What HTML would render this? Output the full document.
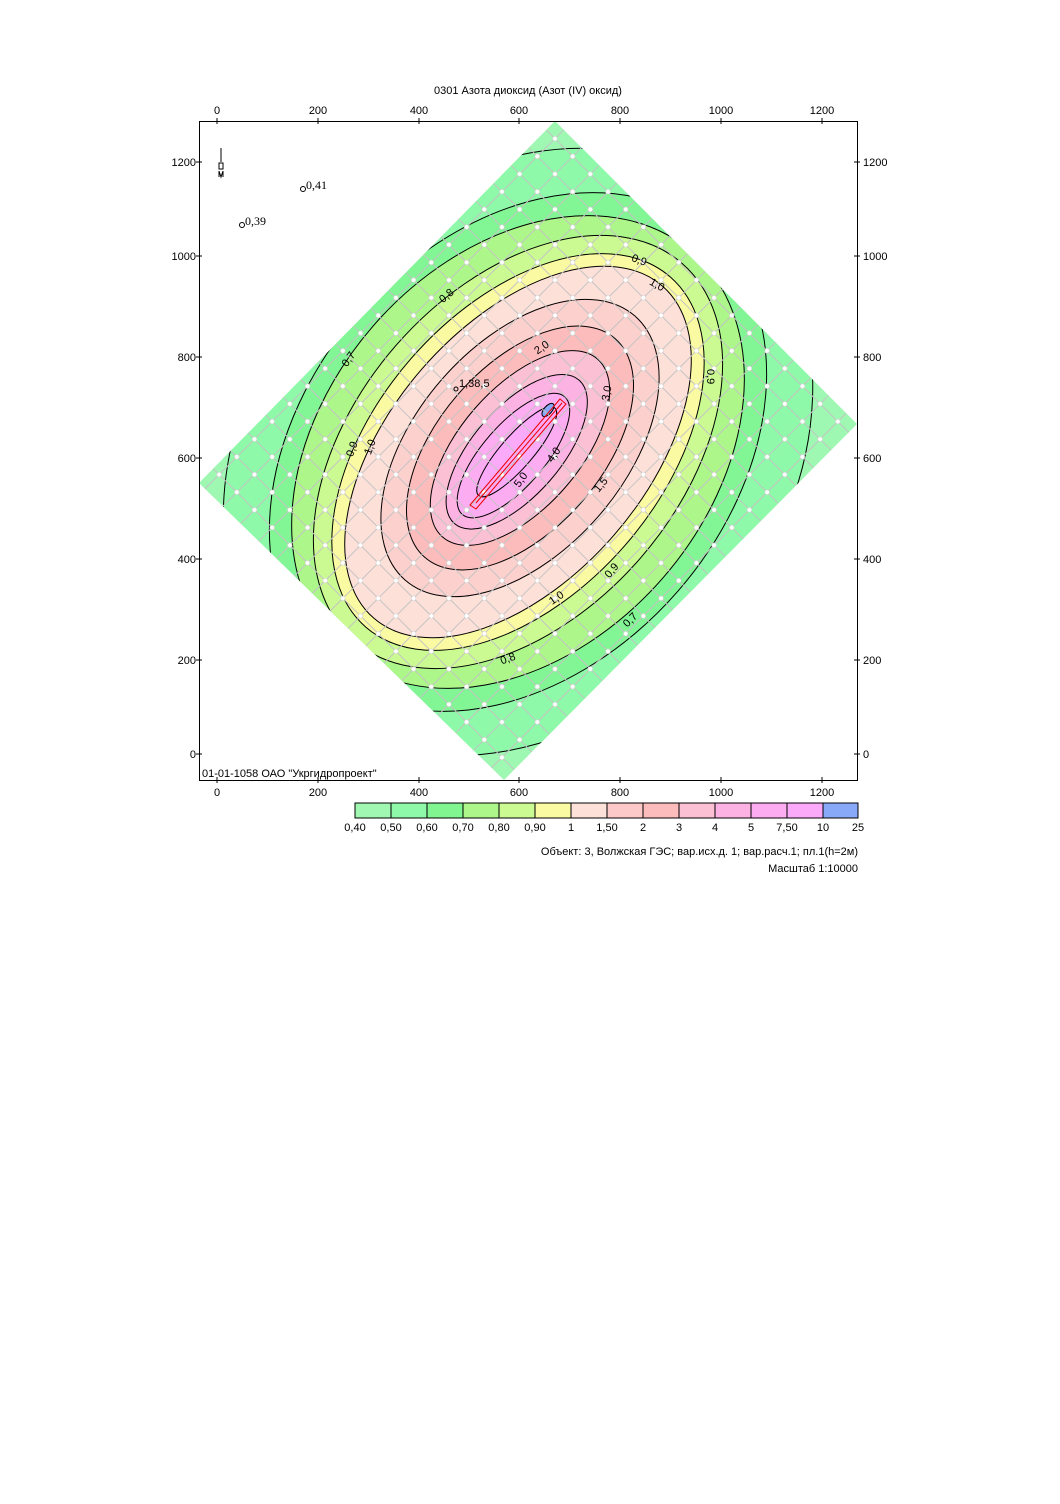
<!DOCTYPE html>
<html><head><meta charset="utf-8"><style>
html,body{margin:0;padding:0;background:#fff;}
svg text{font-family:"Liberation Sans",Arial,sans-serif;font-size:11px;fill:#000;}
</style></head><body>
<svg width="1060" height="1499" viewBox="0 0 1060 1499" xmlns="http://www.w3.org/2000/svg">
<defs>
<clipPath id="dia"><polygon points="555,121 857,424 504,780 199,483"/></clipPath>
<clipPath id="frame"><rect x="199" y="121" width="658" height="659"/></clipPath>
<pattern id="grid" width="25" height="25" patternUnits="userSpaceOnUse" patternTransform="translate(555,121) rotate(45)">
<path d="M0 12.5H25M12.5 0V25" stroke="#c4c4c4" stroke-width="1" fill="none"/>
<circle cx="12.5" cy="12.5" r="2.3" fill="#fff" stroke="#d0d0d0" stroke-width="0.6"/>
</pattern>
</defs>
<text x="528" y="94" text-anchor="middle">0301 Азота диоксид (Азот (IV) оксид)</text>
<g clip-path="url(#frame)"><g clip-path="url(#dia)">
<rect x="199" y="121" width="658" height="659" fill="#9ff8b2"/>
<g transform="translate(518,452) rotate(-49)" stroke="#000" stroke-width="1">
<ellipse rx="330" ry="265" fill="#8ef9a8"/>
<ellipse rx="290" ry="212" fill="#82f594"/>
<ellipse rx="265" ry="192" fill="#acf68a"/>
<ellipse rx="250" ry="162" fill="#cbfa92"/>
<ellipse rx="232" ry="142" fill="#fafaa2"/>
<ellipse rx="220" ry="127" fill="#fde0d8"/>
</g>
<g transform="translate(520,448) rotate(-49)" stroke="#000" stroke-width="1">
<ellipse rx="175" ry="104" fill="#fcd0cc"/>
<ellipse rx="145" ry="82" fill="#fcbcbc"/>
<ellipse rx="118" ry="60" fill="#fcc0d4"/>
<ellipse cx="-5" rx="95" ry="44" fill="#fcb2e2"/>
<ellipse cx="-10" rx="78" ry="31" fill="#fcacf0"/>
<ellipse cx="-5" rx="58" ry="16" fill="#fbaafa"/>
</g>
<ellipse cx="548" cy="410" rx="8" ry="4" transform="rotate(-49 548 410)" fill="#88a8f8" stroke="#000"/>
<rect x="199" y="121" width="658" height="659" fill="url(#grid)"/>
</g></g>
<polygon points="470,505 476,509 566,404 560,399" fill="none" stroke="#e00" stroke-width="1"/>
<line x1="476" y1="503" x2="562" y2="403" stroke="#e00" stroke-width="1"/>
<g font-size="11">
<text x="632" y="262" transform="rotate(20 635 258)">0,9</text>
<text x="650" y="287" transform="rotate(30 655 283)">1,0</text>
<text x="438" y="300" transform="rotate(-40 445 295)">0,8</text>
<text x="340" y="366" transform="rotate(-55 345 360)">0,7</text>
<text x="344" y="455" transform="rotate(-70 350 450)">0,9</text>
<text x="362" y="453" transform="rotate(-70 368 448)">1,0</text>
<text x="706" y="380" transform="rotate(90 712 375)">0,9</text>
<text x="534" y="352" transform="rotate(-35 540 348)">2,0</text>
<text x="601" y="398" transform="rotate(-80 607 395)">3,0</text>
<text x="546" y="459" transform="rotate(-55 553 455)">4,0</text>
<text x="513" y="484" transform="rotate(-55 520 480)">5,0</text>
<text x="593" y="489" transform="rotate(-50 600 485)">1,5</text>
<text x="548" y="602" transform="rotate(-35 555 597)">1,0</text>
<text x="603" y="575" transform="rotate(-50 610 570)">0,9</text>
<text x="622" y="625" transform="rotate(-45 628 620)">0,7</text>
<text x="500" y="662" transform="rotate(-20 508 658)">0,8</text>
<circle cx="456" cy="389" r="2" fill="none" stroke="#000"/><text x="459" y="387">1,38,5</text>
</g>
<rect x="199.5" y="121.5" width="658" height="659" fill="none" stroke="#000" stroke-width="1"/>
<g stroke="#000" stroke-width="1">
<path d="M217 118V124M318 118V124M419 118V124M519 118V124M620 118V124M721 118V124M822 118V124"/>
<path d="M217 777V783M318 777V783M419 777V783M519 777V783M620 777V783M721 777V783M822 777V783"/>
<path d="M196 162H202M196 256H202M196 357H202M196 458H202M196 559H202M196 660H202M196 754H202"/>
<path d="M854 162H860M854 256H860M854 357H860M854 458H860M854 559H860M854 660H860M854 754H860"/>
</g>
<g text-anchor="middle">
<text x="217" y="114">0</text><text x="318" y="114">200</text><text x="419" y="114">400</text><text x="519" y="114">600</text><text x="620" y="114">800</text><text x="721" y="114">1000</text><text x="822" y="114">1200</text>
<text x="217" y="796">0</text><text x="318" y="796">200</text><text x="419" y="796">400</text><text x="519" y="796">600</text><text x="620" y="796">800</text><text x="721" y="796">1000</text><text x="822" y="796">1200</text>
</g>
<g text-anchor="end">
<text x="196" y="166">1200</text><text x="196" y="260">1000</text><text x="196" y="361">800</text><text x="196" y="462">600</text><text x="196" y="563">400</text><text x="196" y="664">200</text><text x="196" y="758">0</text>
</g>
<g>
<text x="863" y="166">1200</text><text x="863" y="260">1000</text><text x="863" y="361">800</text><text x="863" y="462">600</text><text x="863" y="563">400</text><text x="863" y="664">200</text><text x="863" y="758">0</text>
</g>
<text x="202" y="777">01-01-1058 ОАО "Укргидропроект"</text>
<g stroke="#000" stroke-width="1" fill="none">
<line x1="221" y1="148" x2="221" y2="162"/>
<rect x="219" y="163" width="4" height="6"/>
<path d="M219 171L221 177L223 171M219 177L219 171M223 177L223 171"/>
</g>
<circle cx="303" cy="189" r="2.5" fill="none" stroke="#000"/><text x="306" y="189" style="font-family:'Liberation Serif',serif;font-size:12px">0,41</text>
<circle cx="242" cy="225" r="2.5" fill="none" stroke="#000"/><text x="245" y="225" style="font-family:'Liberation Serif',serif;font-size:12px">0,39</text>
<g stroke="#000" stroke-width="1">
<rect x="355" y="803" width="36" height="15" fill="#9ff7b2"/>
<rect x="391" y="803" width="36" height="15" fill="#8ef9a8"/>
<rect x="427" y="803" width="36" height="15" fill="#80f590"/>
<rect x="463" y="803" width="36" height="15" fill="#acf68a"/>
<rect x="499" y="803" width="36" height="15" fill="#cbfa92"/>
<rect x="535" y="803" width="36" height="15" fill="#fafaa2"/>
<rect x="571" y="803" width="36" height="15" fill="#fde0d8"/>
<rect x="607" y="803" width="36" height="15" fill="#fcc8c8"/>
<rect x="643" y="803" width="36" height="15" fill="#fcbcbc"/>
<rect x="679" y="803" width="36" height="15" fill="#fcc0d4"/>
<rect x="715" y="803" width="36" height="15" fill="#fcb2e2"/>
<rect x="751" y="803" width="36" height="15" fill="#fcacf0"/>
<rect x="787" y="803" width="36" height="15" fill="#fbaafa"/>
<rect x="823" y="803" width="35" height="15" fill="#88a8f8"/>
</g>
<g text-anchor="middle">
<text x="355" y="831">0,40</text><text x="391" y="831">0,50</text><text x="427" y="831">0,60</text><text x="463" y="831">0,70</text><text x="499" y="831">0,80</text><text x="535" y="831">0,90</text><text x="571" y="831">1</text><text x="607" y="831">1,50</text><text x="643" y="831">2</text><text x="679" y="831">3</text><text x="715" y="831">4</text><text x="751" y="831">5</text><text x="787" y="831">7,50</text><text x="823" y="831">10</text><text x="858" y="831">25</text>
</g>
<text x="858" y="855" text-anchor="end">Объект: 3, Волжская ГЭС; вар.исх.д. 1; вар.расч.1; пл.1(h=2м)</text>
<text x="858" y="872" text-anchor="end">Масштаб 1:10000</text>
</svg>
</body></html>
